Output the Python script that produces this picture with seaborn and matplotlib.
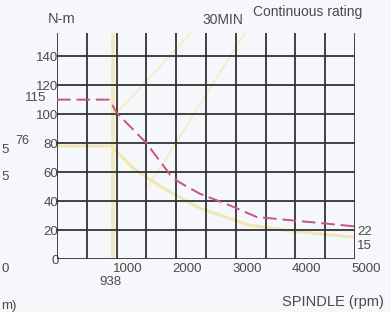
import matplotlib
matplotlib.use("Agg")
import matplotlib.pyplot as plt
import matplotlib.transforms as mtransforms
import seaborn as sns

# torque curves (rpm, N-m)
rpm_30min = [0, 880, 1000, 1500, 1900, 2050, 2400, 2900, 3350, 5000]
torque_30min = [110, 110, 101, 80, 58, 53, 45, 37, 29, 22.5]

rpm_cont = [0, 938, 1050, 1300, 1700, 2000, 2400, 2900, 3200, 4000, 5000]
torque_cont = [78, 78, 72, 62, 51, 44, 35, 28, 23.5, 19, 15]

# faint output lines behind the grid
rpm_out_30min = [1550, 3150]
val_out_30min = [51, 156]
rpm_out_cont = [920, 2250]
val_out_cont = [97, 156]

base_rpm = 938

y_ticks = [0, 20, 40, 60, 80, 100, 120, 140]
x_ticks = [1000, 2000, 3000, 4000, 5000]
x_grid = [0, 500, 1000, 1500, 2000, 2500, 3000, 3500, 4000, 4500, 5000]

sns.set_style("white")
plt.rcParams['font.family'] = ['Liberation Sans', 'DejaVu Sans']

W, H = 391, 312
fig = plt.figure(figsize=(W / 100, H / 100), dpi=100, facecolor='#f6f7fa')
ax = fig.add_axes([57 / W, 1 - 259 / H, 298 / W, 226 / H])
ax.set_facecolor('none')
ax.set_xlim(0, 5000)
ax.set_ylim(0, 156)
for s in ax.spines.values():
    s.set_visible(False)

yellow = '#f3edc6'
# yellow lines
ax.plot([base_rpm, base_rpm], [0, 156], color='#f1e9b8', lw=2.6, zorder=1)
sns.lineplot(x=rpm_out_30min, y=val_out_30min, color=yellow, lw=1.3, ax=ax, zorder=1)
sns.lineplot(x=rpm_out_cont, y=val_out_cont, color=yellow, lw=1.3, ax=ax, zorder=1)
sns.lineplot(x=rpm_cont, y=torque_cont, sort=False, estimator=None,
             color='#f1e7b4', lw=2.2, ax=ax, zorder=1)

# grid
ax.vlines(x_grid, 0, 156, color='#333333', lw=1.3, zorder=2)
ax.hlines([0] + y_ticks[1:], 0, 5000, color='#333333', lw=1.3, zorder=2)

sns.lineplot(x=rpm_30min, y=torque_30min, sort=False, estimator=None,
             color='#c4548a', lw=1.4, ax=ax, zorder=3)
ax.lines[-1].set_dashes([7, 3])

# ticks
ax.set_yticks(y_ticks, [str(v) for v in y_ticks])
ax.set_xticks(x_ticks, [str(v) for v in x_ticks])
ax.set_xticks([base_rpm], [str(base_rpm)], minor=True)
ax.tick_params(axis='y', length=0, pad=-1, labelsize=9.5, labelcolor='#4a4a4a')
ax.tick_params(axis='x', which='major', length=0, pad=3, labelsize=9.5, labelcolor='#4a4a4a')
ax.tick_params(axis='x', which='minor', length=0, pad=12, labelsize=9.5, labelcolor='#4a4a4a')
off = mtransforms.ScaledTranslation(0.11, 0, fig.dpi_scale_trans)
for lab in ax.get_xticklabels():
    lab.set_transform(lab.get_transform() + off)
off2 = mtransforms.ScaledTranslation(-0.02, 0, fig.dpi_scale_trans)
for lab in ax.get_xticklabels(minor=True):
    lab.set_transform(lab.get_transform() + off2)


def ftext(x, y, s, size=9.5, ha='left', color='#4a4a4a'):
    fig.text(x / W, 1 - y / H, s, fontsize=size, ha=ha, va='center', color=color)


ftext(48, 19, 'N-m', size=10.5)
ftext(202, 20, '30MIN', size=10)
ftext(253, 12, 'Continuous rating', size=10)
ftext(25, 98, '115')
ftext(15, 141, '76', size=9)
ftext(357, 232, '22')
ftext(357, 246, '15')
ftext(282, 302, 'SPINDLE (rpm)', size=10.5)
# fragments of the neighbouring chart
ftext(1, 150, '5')
ftext(1, 177, '5')
ftext(1, 269, '0')
ftext(1, 306, 'm)')

fig.savefig('out.png', dpi=100, facecolor=fig.get_facecolor())
